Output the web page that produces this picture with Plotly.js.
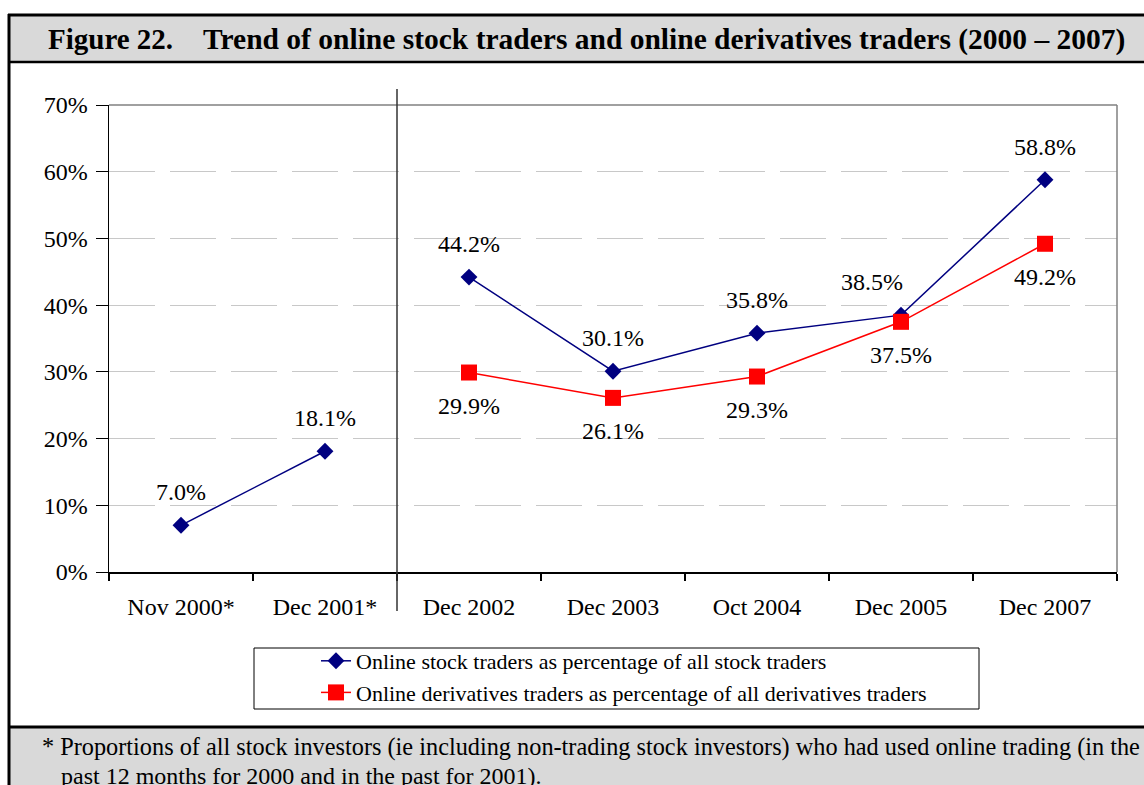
<!DOCTYPE html>
<html>
<head>
<meta charset="utf-8">
<script src="https://cdn.plot.ly/plotly-3.0.1.min.js"></script>
<style>
  body { margin: 0; background: #ffffff; }
  #grafico { width: 1144px; height: 785px; }
</style>
</head>
<body>
<div id="grafico"></div>
<script>
// Survey dates (the first two are on a different basis, see footnote)
const categories = ['Nov 2000*', 'Dec 2001*', 'Dec 2002', 'Dec 2003', 'Oct 2004', 'Dec 2005', 'Dec 2007'];
// Online stock traders as % of all stock traders
const stockShare = [7.0, 18.1, 44.2, 30.1, 35.8, 38.5, 58.8];
// Online derivatives traders as % of all derivatives traders
const derivShare = [null, null, 29.9, 26.1, 29.3, 37.5, 49.2];
const yTicks = [0, 10, 20, 30, 40, 50, 60, 70];

const stockName = 'Online stock traders as percentage of all stock traders';
const derivName = 'Online derivatives traders as percentage of all derivatives traders';
const titleNum = 'Figure 22.';
const titleText = 'Trend of online stock traders and online derivatives traders (2000 \u2013 2007)';
const noteLine1 = '* Proportions of all stock investors (ie including non-trading stock investors) who had used online trading (in the';
const noteLine2 = 'past 12 months for 2000 and in the past for 2001).';

// plot area in pixels
const W = 1144, H = 785;
const L = 109, R = 1117, T = 105, B = 572;
const px = v => (v - L) / (R - L);
const py = v => (B - v) / (B - T);

const serif = 'Liberation Serif, Times New Roman, serif';
const navy = '#000080';
const red = '#ff0000';

const stockStyle = {
    mode: 'lines+markers',
    line: { color: navy, width: 1.5 },
    marker: { symbol: 'diamond', size: 13, color: navy },
    legendgroup: 'stock',
    hoverinfo: 'skip'
};

// line breaks between Dec 2001 and Dec 2002
const data = [
    Object.assign({ x: categories.slice(0, 2), y: stockShare.slice(0, 2), showlegend: false, name: stockName }, stockStyle),
    Object.assign({ x: categories.slice(2), y: stockShare.slice(2), name: stockName }, stockStyle),
    {
        x: categories, y: derivShare, name: derivName,
        mode: 'lines+markers',
        line: { color: red, width: 1.5 },
        marker: { symbol: 'square', size: 16, color: red },
        hoverinfo: 'skip'
    }
];

// value labels: stock above, derivatives below
const labelNudge = { 5: -29 };
const annotations = [];
stockShare.forEach((v, i) => {
    if (v === null) return;
    annotations.push({
        x: categories[i], y: v, text: v.toFixed(1) + '%', showarrow: false,
        yshift: 33, xshift: labelNudge[i] || 0,
        font: { family: serif, size: 24, color: '#000' }
    });
});
derivShare.forEach((v, i) => {
    if (v === null) return;
    annotations.push({
        x: categories[i], y: v, text: v.toFixed(1) + '%', showarrow: false,
        yshift: -33,
        font: { family: serif, size: 24, color: '#000' }
    });
});

// title and footnote
annotations.push(
    { xref: 'paper', yref: 'paper', x: px(46), y: py(39), xanchor: 'left', yanchor: 'middle', showarrow: false,
      text: '<b>' + titleNum + '</b>', font: { family: serif, size: 29, color: '#000' } },
    { xref: 'paper', yref: 'paper', x: px(201), y: py(39), xanchor: 'left', yanchor: 'middle', showarrow: false,
      text: '<b>' + titleText + '</b>', font: { family: serif, size: 29.5, color: '#000' } },
    { xref: 'paper', yref: 'paper', x: px(40), y: py(747), xanchor: 'left', yanchor: 'middle', showarrow: false,
      text: noteLine1, font: { family: serif, size: 24.3, color: '#000' } },
    { xref: 'paper', yref: 'paper', x: px(59), y: py(776), xanchor: 'left', yanchor: 'middle', showarrow: false,
      text: noteLine2, font: { family: serif, size: 24, color: '#000' } }
);

const shapes = [
    // title band
    { type: 'rect', xref: 'paper', yref: 'paper', x0: px(9), x1: px(1160), y0: py(62), y1: py(15),
      fillcolor: '#d9d9d9', line: { width: 0 }, layer: 'below' },
    { type: 'line', xref: 'paper', yref: 'paper', x0: px(8), x1: px(1160), y0: py(15), y1: py(15),
      line: { color: '#000', width: 3 } },
    { type: 'line', xref: 'paper', yref: 'paper', x0: px(8), x1: px(1160), y0: py(62), y1: py(62),
      line: { color: '#000', width: 2.5 } },
    // footnote band
    { type: 'rect', xref: 'paper', yref: 'paper', x0: px(9), x1: px(1160), y0: py(800), y1: py(727),
      fillcolor: '#d9d9d9', line: { width: 0 }, layer: 'below' },
    { type: 'line', xref: 'paper', yref: 'paper', x0: px(8), x1: px(1160), y0: py(727), y1: py(727),
      line: { color: '#000', width: 3 } },
    // left frame
    { type: 'line', xref: 'paper', yref: 'paper', x0: px(9), x1: px(9), y0: py(14), y1: py(800),
      line: { color: '#000', width: 3 } },
    // plot border top / right
    { type: 'line', xref: 'paper', yref: 'paper', x0: 0, x1: 1, y0: 1, y1: 1,
      line: { color: '#808080', width: 1.5 } },
    { type: 'line', xref: 'paper', yref: 'paper', x0: 1, x1: 1, y0: 0, y1: 1,
      line: { color: '#808080', width: 1.5 } },
    // separator between the two survey bases
    { type: 'line', xref: 'x', yref: 'paper', x0: 1.5, x1: 1.5, y0: py(611), y1: py(89),
      line: { color: '#333', width: 1.5 } },
    // legend box
    { type: 'rect', xref: 'paper', yref: 'paper', x0: px(254), x1: px(979), y0: py(709), y1: py(648),
      line: { color: '#000', width: 1 } }
];

const layout = {
    width: W, height: H,
    margin: { l: L, r: W - R, t: T, b: H - B },
    paper_bgcolor: '#ffffff',
    plot_bgcolor: '#ffffff',
    font: { family: serif, color: '#000' },
    showlegend: true,
    legend: {
        x: px(316), y: py(640), xanchor: 'left', yanchor: 'top',
        bgcolor: 'rgba(0,0,0,0)', borderwidth: 0, tracegroupgap: 0,
        font: { family: serif, size: 22, color: '#000' }
    },
    xaxis: {
        type: 'category',
        categoryorder: 'array', categoryarray: categories,
        range: [-0.5, categories.length - 0.5],
        tickson: 'boundaries',
        ticks: 'outside', ticklen: 7, tickcolor: '#000', tickwidth: 1.5,
        showline: true, linecolor: '#000', linewidth: 1.5,
        showgrid: false, zeroline: false,
        ticklabelstandoff: 13,
        tickfont: { family: serif, size: 24, color: '#000' }
    },
    yaxis: {
        range: [0, 70],
        tickvals: yTicks,
        ticktext: yTicks.map(v => v + '%'),
        ticks: 'outside', ticklen: 12, tickcolor: '#000', tickwidth: 1,
        showline: true, linecolor: '#000', linewidth: 1.5,
        showgrid: true, gridcolor: '#c8c8c8', gridwidth: 1, griddash: '46px,15px',
        zeroline: false,
        ticklabelstandoff: 3,
        tickfont: { family: serif, size: 24, color: '#000' }
    },
    shapes: shapes,
    annotations: annotations
};

Plotly.newPlot('grafico', data, layout, { displayModeBar: false, staticPlot: true });
</script>
</body>
</html>
